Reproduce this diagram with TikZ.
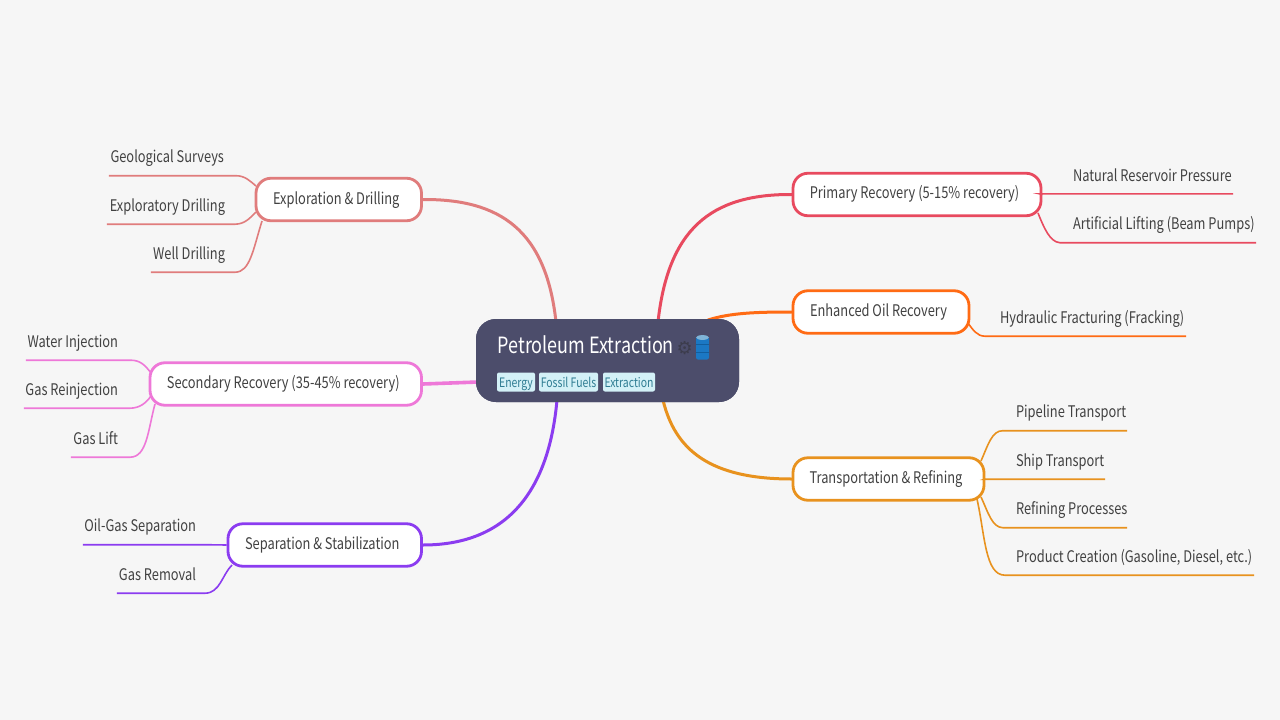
\documentclass[tikz,border=0pt]{standalone}
\usepackage{fontspec}
\setmainfont[FakeStretch=0.803]{Noto Sans CJK SC}
\newfontfamily\symfont{DejaVu Sans}
\definecolor{bgc}{HTML}{F6F6F6}
\definecolor{rootc}{HTML}{4C4D6B}
\definecolor{gearc}{HTML}{3C3C4C}
\definecolor{txtc}{HTML}{414141}
\definecolor{tagf}{HTML}{D3F1F7}
\definecolor{tagt}{HTML}{2E7C92}
\definecolor{cexp}{HTML}{E07C7C}
\definecolor{cpri}{HTML}{E84A5F}
\definecolor{cenh}{HTML}{FF6B14}
\definecolor{ctra}{HTML}{E8921E}
\definecolor{csec}{HTML}{EE78D8}
\definecolor{csep}{HTML}{8B3CF0}
\definecolor{barrelb}{HTML}{1B78C4}
\definecolor{barrelt}{HTML}{7FB4D8}
\definecolor{barreld}{HTML}{125E9E}
\tikzset{
 x=1pt,y=-1pt,
 root/.style={draw=none,fill=rootc,rounded corners=20pt,minimum width=263pt,minimum height=83pt,inner sep=0pt},
 topic/.style={draw=#1,fill=white,line width=2.8pt,rounded corners=15pt,inner sep=0pt,minimum height=42.5pt},
 topictxt/.style={text=txtc,inner sep=0pt,text height=14pt,text depth=4.6pt,font=\fontsize{16}{18}\selectfont},
 leaf/.style={inner sep=0pt,text height=24.2pt,text depth=12.8pt,text=txtc,font=\fontsize{16}{18}\selectfont},
 tag/.style={fill=tagf,text=tagt,rounded corners=2pt,inner sep=0pt,text height=14.8pt,text depth=4.2pt,font=\fontsize{13}{15}\selectfont},
 main/.style={line width=3pt,line cap=round,#1},
 sub/.style={line width=1.6pt,#1},
}
\newcommand{\lfL}[3]{\makebox[#1pt][r]{#3\hspace{#2pt}}}
\newcommand{\lfR}[3]{\makebox[#1pt][l]{\hspace{#2pt}#3}}
\begin{document}
\begin{tikzpicture}
\useasboundingbox (0,0) rectangle (1280,720);
\fill[bgc] (0,0) rectangle (1280,720);

\node[root] (root) at (607.5,360.5) {};
\node[topic=cexp,minimum width=165.5pt] (exp) at (338.75,199.5) {};
\node[topic=cpri,minimum width=248pt] (pri) at (917,194.5) {};
\node[topic=cenh,minimum width=176pt] (enh) at (881,312) {};
\node[topic=ctra,minimum width=191pt] (tra) at (888.5,479) {};
\node[topic=csec,minimum width=271.5pt] (sec) at (285.75,384) {};
\node[topic=csep,minimum width=193.5pt] (sep) at (324.75,545) {};

\draw[main=cexp] (exp.east) .. controls (500,199) and (546,230) .. (556,322);
\draw[main=cpri] (pri.west) .. controls (710,194) and (668,230) .. (658,322);
\draw[main=cenh] (enh.west) .. controls (755,312) and (730,313) .. (708,320);
\draw[main=ctra] (tra.west) .. controls (710,479) and (675,450) .. (663,400);
\draw[main=csec,line width=3.6pt] (sec.east) -- (478,382);
\draw[main=csep] (sep.east) .. controls (500,545) and (548,500) .. (557,400);

% root redrawn over the connector ends
\node[root] (rootb) at (root) {};
\node[anchor=base west,inner sep=0pt,text=white,font=\fontsize{22.4}{26}\selectfont] (title) at (497.5,353.3) {Petroleum Extraction};
\node[anchor=base west,inner sep=0pt,text=gearc,font=\symfont\fontsize{18}{20}\selectfont] (gear) at (676.5,354) {⚙};
\node[tag,minimum width=38pt] (t1) at (516,382) {Energy};
\node[tag,minimum width=59pt] (t2) at (568.5,382) {Fossil Fuels};
\node[tag,minimum width=52pt] (t3) at (629,382) {Extraction};
% barrel
\fill[barrelb,rounded corners=2pt] (696,337) -- (696,359.5) -- (709,359.5) -- (709,337) -- cycle;
\draw[barreld,line width=.8pt] (696,344) -- (709,344) (696,352) -- (709,352);
\fill[barrelt] (702.5,337.5) ellipse[x radius=6.5pt,y radius=2.4pt];

% topic labels
\node[topictxt,xshift=-2.5pt] (extxt) at (exp) {Exploration \& Drilling};
\node[topictxt,xshift=-2.5pt,yshift=.6pt] (prtxt) at (pri) {Primary Recovery (5-15\% recovery)};
\node[topictxt,xshift=-2.5pt] (entxt) at (enh) {Enhanced Oil Recovery};
\node[topictxt,xshift=-2.5pt] (trtxt) at (tra) {Transportation \& Refining};
\node[topictxt,xshift=-2.5pt] (setxt) at (sec) {Secondary Recovery (35-45\% recovery)};
\node[topictxt,xshift=-2.5pt] (sptxt) at (sep) {Separation \& Stabilization};

% leaves: the bottom edge of each node is its underline
\node[leaf] (l1) at (172,157) {\lfL{126}{11}{Geological Surveys}};
\node[leaf] (l2) at (171,205.5) {\lfL{128}{10}{Exploratory Drilling}};
\node[leaf] (l3) at (193,253.5) {\lfL{84}{10}{Well Drilling}};
\node[leaf] (l4) at (78,341.5) {\lfL{104}{12}{Water Injection}};
\node[leaf] (l5) at (77,389.5) {\lfL{106}{12}{Gas Reinjection}};
\node[leaf] (l6) at (100.5,438.5) {\lfL{59}{12}{Gas Lift}};
\node[leaf,text depth=13.3pt,text height=23.7pt] (l7) at (144,526) {\lfL{122}{9}{Oil-Gas Separation}};
\node[leaf] (l8) at (161,574.5) {\lfL{88}{9}{Gas Removal}};
\node[leaf,text depth=12.3pt,text height=24.7pt] (r1) at (1136.5,175.2) {\lfR{193}{33}{Natural Reservoir Pressure}};
\node[leaf] (r2) at (1158,224) {\lfR{196}{13}{Artificial Lifting (Beam Pumps)}};
\node[leaf] (r3) at (1085.5,317.5) {\lfR{201}{15}{Hydraulic Fracturing (Fracking)}};
\node[leaf] (r4) at (1065,412) {\lfR{124}{13}{Pipeline Transport}};
\node[leaf] (r5) at (1045,460.5) {\lfR{120}{31}{Ship Transport}};
\node[leaf] (r6) at (1065,509) {\lfR{124}{13}{Refining Processes}};
\node[leaf] (r7) at (1129.5,556.5) {\lfR{249}{11}{Product Creation (Gasoline, Diesel, etc.)}};

% leaf connectors
\draw[sub=cexp] (l1.south west) -- (l1.south east) .. controls (245,175.5) and (250,181) .. (256,186);
\draw[sub=cexp] (l2.south west) -- (l2.south east) .. controls (245,224) and (250,218) .. (256,212);
\draw[sub=cexp] (l3.south west) -- (l3.south east) .. controls (250,272) and (253,250) .. (262,221);
\draw[sub=cpri] (pri.east) -- (r1.south west) -- (r1.south east);
\draw[sub=cpri] (r2.south east) -- (r2.south west) .. controls (1050,242) and (1044,228) .. (1038,213);
\draw[sub=cenh] (r3.south east) -- (r3.south west) .. controls (977,336) and (973,330) .. (968,323);
\draw[sub=ctra] (r4.south east) -- (r4.south west) .. controls (992,430.5) and (988,445) .. (981,461);
\draw[sub=ctra] (tra.east) -- (r5.south west) -- (r5.south east);
\draw[sub=ctra] (r6.south east) -- (r6.south west) .. controls (992,527.5) and (988,512) .. (981,497);
\draw[sub=ctra] (r7.south east) -- (r7.south west) .. controls (985,575) and (985,535) .. (977,499);
\draw[sub=csec] (l4.south west) -- (l4.south east) .. controls (140,360) and (145,365) .. (151,373);
\draw[sub=csec] (l5.south west) -- (l5.south east) .. controls (140,408) and (146,403) .. (151,396);
\draw[sub=csec] (l6.south west) -- (l6.south east) .. controls (147,457) and (148,430) .. (155,404);
\draw[sub=csep] (l7.south west) -- (l7.south east) -- (sep.west);
\draw[sub=csep] (l8.south west) -- (l8.south east) .. controls (220,593) and (222,575) .. (232,565);
\end{tikzpicture}
\end{document}
